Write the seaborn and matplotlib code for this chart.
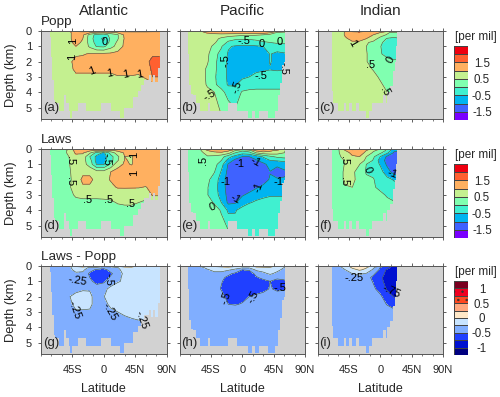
import numpy as np
import pandas as pd
import matplotlib
matplotlib.use("Agg")
import matplotlib.pyplot as plt
from matplotlib.patches import Rectangle
from matplotlib.ticker import MultipleLocator
import seaborn as sns

sns.set_theme(style="ticks")
plt.rcParams['font.family'] = ['Liberation Sans', 'DejaVu Sans']
plt.rcParams['hatch.linewidth'] = .5

#----------------------------------
# Data
#----------------------------------
lats = [-80, -70, -60, -50, -40, -30, -20, -10, 0, 10, 20, 30, 40, 50, 60, 70, 80]
depths = [0, .1, .25, .5, .75, 1, 1.5, 2, 2.5, 3, 3.5, 4, 5.75]

atl_popp = [
    [.8, .8, .8, .9, 1.7, 1.8, 1.8, 1.8, 1.8, 1.8, 1.8, 1.8, 1.8, 1.8, 1.8, 1.7, 1.7],
    [.8, .8, .8, .9, 1.2, 1.25, 1.1, .8, .7, .8, 1.1, 1.25, 1.3, 1.3, 1.3, 1.3, 1.3],
    [.8, .8, .8, .9, 1.2, 1.1, .3, -.2, -.3, .2, .45, 1.1, 1.3, 1.3, 1.3, 1.3, 1.3],
    [.8, .8, .8, .9, 1.2, 1.0, .25, -.3, -.6, .1, .45, 1.05, 1.3, 1.3, 1.3, 1.3, 1.3],
    [.8, .8, .8, .9, 1.1, .95, .3, -.2, -.4, .15, .6, 1.1, 1.3, 1.3, 1.3, 1.3, 1.3],
    [.8, .8, .8, .9, 1.0, .9, .4, -.05, -.1, .3, .7, 1.1, 1.3, 1.3, 1.3, 1.3, 1.3],
    [.8, .8, .8, .9, .9, .95, 1.05, 1.1, 1.1, 1.1, 1.15, 1.2, 1.3, 1.3, 1.3, 1.4, 1.4],
    [.8, .8, .8, .85, 1.2, 1.2, 1.2, 1.2, 1.2, 1.2, 1.2, 1.2, 1.2, 1.2, 1.3, 1.7, 1.7],
    [.8, .8, .8, .85, 1.1, 1.1, 1.1, 1.1, 1.1, 1.1, 1.1, 1.1, 1.1, 1.1, 1.2, 1.6, 1.6],
    [.8, .8, .8, .85, .9, .9, .9, .9, .9, .9, .98, .98, .98, .95, 1.05, 1.5, 1.5],
    [.8, .8, .8, .8, .8, .8, .8, .8, .8, .8, .8, .8, .8, .8, .8, .85, .85],
    [.8, .8, .8, .8, .8, .8, .8, .8, .8, .8, .8, .8, .8, .8, .8, .8, .8],
    [.7, .7, .7, .7, .7, .7, .7, .7, .7, .7, .7, .7, .7, .7, .7, .7, .7],
]
pac_popp = [
    [.9, .9, 1.0, 1.2, 1.4, 1.5, 1.6, 1.6, 1.6, 1.6, 1.6, 1.6, 1.5, 1.2, .8, .8, .8],
    [.9, .9, .9, 1.05, 1.2, 1.3, 1.3, 1.3, 1.3, 1.3, 1.3, 1.3, 1.1, .45, .4, .4, .4],
    [.85, .85, .85, .85, .8, .8, .75, .7, .6, .6, .55, .5, .3, .2, .2, .2, .2],
    [.85, .85, .85, .75, .65, .4, .2, .05, .05, .05, .1, .15, .2, .15, .15, .15, .15],
    [.85, .85, .85, .7, .55, .3, -.1, -.15, -.2, -.2, -.15, -.05, .0, .08, .1, .1, .1],
    [.85, .85, .8, .65, .4, .05, -.45, -.55, -.6, -.6, -.55, -.5, -.35, -.25, -.2, -.2, -.2],
    [.85, .85, .75, .6, .15, -.15, -.55, -.7, -.75, -.75, -.75, -.7, -.48, -.6, -.55, -.5, -.5],
    [.85, .8, .7, .55, .1, -.2, -.6, -.7, -.7, -.7, -.7, -.65, -.48, -.6, -.55, -.5, -.5],
    [.85, .8, .7, .42, .08, -.2, -.6, -.7, -.65, -.62, -.58, -.55, -.52, -.55, -.52, -.5, -.5],
    [.85, .8, .7, .42, .05, -.2, -.6, -.62, -.58, -.5, -.4, -.35, -.3, -.3, -.3, -.3, -.3],
    [.85, .8, .7, .45, .1, -.25, -.55, -.55, -.3, -.2, -.15, -.15, -.15, -.15, -.15, -.15, -.15],
    [.85, .8, .8, .6, .5, .2, -.25, -.3, .05, .1, .1, .1, .1, .1, .1, .1, .1],
    [.6, .6, .6, .6, .6, .55, .55, .2, .2, .2, .2, .2, .2, .2, .2, .2, .2],
]
ind_popp = [
    [.7, .7, .7, 1.0, 1.6, 1.7, 1.6, 1.5, 1.3, 1.2, 1.6, 1.6, 1.6, 1.6, 1.6, 1.6, 1.6],
    [.7, .7, .75, 1.05, 1.4, 1.4, 1.2, 1.1, 1.0, .6, .3, .3, .3, .3, .3, .3, .3],
    [.7, .7, .75, 1.05, 1.2, 1.2, 1.15, 1.0, .7, .45, .2, .2, .2, .2, .2, .2, .2],
    [.7, .7, .75, .95, 1.1, 1.1, 1.0, .7, .35, -.05, -.1, 0, 0, 0, 0, 0, 0],
    [.7, .7, .7, .8, .95, .95, .55, .4, .1, -.2, -.2, -.2, -.2, -.2, -.2, -.2, -.2],
    [.7, .7, .7, .75, .8, .75, .5, .35, .02, -.2, -.2, -.2, -.2, -.2, -.2, -.2, -.2],
    [.7, .7, .7, .7, .7, .7, .52, .35, .03, -.1, -.15, -.15, -.15, -.15, -.15, -.15, -.15],
    [.7, .7, .7, .7, .7, .7, .52, .35, .2, .1, .05, .05, .05, .05, .05, .05, .05],
    [.7, .7, .7, .7, .7, .7, .6, .48, .3, .2, .2, .2, .2, .2, .2, .2, .2],
    [.7, .7, .7, .7, .7, .7, .7, .6, .45, .3, .25, .25, .25, .25, .25, .25, .25],
    [.7, .7, .7, .7, .7, .7, .7, .65, .55, .4, .4, .4, .4, .4, .4, .4, .4],
    [.7, .7, .7, .7, .7, .7, .7, .7, .6, .5, .5, .5, .5, .5, .5, .5, .5],
    [.7, .7, .7, .7, .7, .7, .7, .7, .7, .7, .7, .7, .7, .7, .7, .7, .7],
]
atl_laws = [
    [.4, .4, .4, .5, 1.6, 1.7, 1.8, 1.8, 1.8, 1.8, 1.8, 1.8, 1.7, 1.6, 1.5, 1.4, 1.3],
    [.4, .4, .4, .55, 1.2, 1.2, 1.1, .9, .75, .9, 1.1, 1.2, 1.1, 1.2, 1.2, 1.2, 1.2],
    [.4, .4, .4, .55, 1.1, 1.05, .6, -.2, -.6, .2, .75, 1.05, 1.1, 1.2, 1.2, 1.2, 1.2],
    [.4, .4, .4, .5, .8, .85, .0, -.65, -.7, -.2, .4, 1.0, .96, 1.2, 1.2, 1.2, 1.2],
    [.4, .4, .4, .48, .7, .7, .2, -.7, -.65, -.2, .45, 1.02, .97, 1.2, 1.2, 1.2, 1.2],
    [.4, .4, .4, .48, .65, .7, .3, -.55, -.55, .1, .85, 1.05, .98, 1.2, 1.2, 1.2, 1.2],
    [.4, .4, .4, .45, .65, .85, .85, .7, .7, 1.0, 1.15, 1.2, 1.2, 1.2, 1.2, 1.2, 1.2],
    [.4, .4, .4, .45, .6, 1.15, 1.15, .8, .8, 1.05, 1.15, 1.2, 1.2, 1.2, 1.2, 1.2, 1.2],
    [.4, .4, .4, .45, .65, .9, .9, .75, .75, .85, 1.05, 1.05, 1.03, 1.02, .98, 1.1, 1.1],
    [.4, .4, .4, .4, .55, .6, .6, .6, .6, .6, .6, .65, .75, .8, .6, 1.05, 1.05],
    [.4, .4, .4, .4, .4, .4, .4, .4, .42, .45, .52, .55, .55, .5, .45, .6, .6],
    [.4, .4, .4, .4, .4, .4, .4, .4, .4, .4, .4, .4, .4, .4, .4, .4, .4],
    [.35, .35, .35, .35, .35, .35, .35, .35, .35, .35, .35, .35, .35, .35, .35, .35, .35],
]
pac_laws = [
    [.3, .3, .4, 1.5, 1.7, 1.7, 1.6, 1.3, .9, 1.2, 1.7, 1.8, 1.7, 1.5, .8, .3, .3],
    [.3, .3, .45, 1.0, 1.3, 1.3, 1.1, .5, .1, .3, 1.1, 1.3, 1.1, .9, .55, .3, .3],
    [.3, .3, .35, .7, .8, .9, .7, .0, -.3, -.2, .5, .8, .8, .7, .5, .3, .3],
    [.3, .3, .3, .45, .4, .2, -.3, -.7, -1.0, -1.0, -.8, -.45, -.1, .1, .2, .2, .2],
    [.3, .3, .3, .4, .3, .0, -.7, -1.15, -1.25, -1.25, -1.05, -.75, -.5, -.45, -.4, -.4, -.4],
    [.3, .3, .3, .38, .2, -.3, -1.05, -1.3, -1.35, -1.35, -1.3, -1.15, -.8, -.9, -.75, -.7, -.7],
    [.3, .3, .3, .3, .02, -.55, -1.15, -1.35, -1.35, -1.35, -1.35, -1.3, -1.02, -1.2, -1.1, -1, -1],
    [.3, .3, .3, .1, -.2, -.75, -1.2, -1.35, -1.35, -1.35, -1.35, -1.2, -.95, -.95, -.95, -.9, -.9],
    [.3, .3, .3, .03, -.3, -.75, -1.2, -1.3, -1.3, -1.2, -1.05, -.9, -.8, -.75, -.75, -.7, -.7],
    [.3, .3, .3, .02, -.25, -.7, -1.15, -1.2, -1.05, -.9, -.75, -.65, -.55, -.55, -.55, -.5, -.5],
    [.3, .3, .3, .2, -.05, -.5, -1.1, -1.05, -.75, -.55, -.4, -.3, -.3, -.3, -.3, -.3, -.3],
    [.3, .3, .3, .3, .2, -.05, -.6, -.55, -.3, -.05, -.05, -.05, -.05, -.05, -.05, -.05, -.05],
    [.3, .3, .3, .3, .3, .3, .2, -.1, -.1, -.1, -.1, -.1, -.1, -.1, -.1, -.1, -.1],
]
ind_laws = [
    [.3, .3, .4, 1.4, 1.8, 1.6, 1.3, .8, .5, .0, -1, -1, -1, -1, -1, -1, -1],
    [.3, .3, .45, 1.0, 1.2, 1.2, 1.0, .6, .3, -.1, -.9, -.9, -.9, -.9, -.9, -.9, -.9],
    [.3, .3, .45, .85, 1.1, 1.1, .95, .4, .1, -.4, -1.1, -1.1, -1.1, -1.1, -1.1, -1.1, -1.1],
    [.3, .3, .45, .6, .95, 1.0, .5, .1, -.5, -1.1, -1.2, -1.2, -1.2, -1.2, -1.2, -1.2, -1.2],
    [.3, .3, .4, .52, .75, .75, .4, -.05, -.7, -1.2, -1.3, -1.3, -1.3, -1.3, -1.3, -1.3, -1.3],
    [.3, .3, .4, .52, .7, .52, .0, -.2, -.55, -1.1, -1.35, -1.35, -1.35, -1.35, -1.35, -1.35, -1.35],
    [.3, .3, .4, .55, .6, .3, -.05, -.1, -.3, -.8, -1.2, -1.2, -1.2, -1.2, -1.2, -1.2, -1.2],
    [.3, .3, .4, .55, .6, .35, .1, .03, -.2, -.35, -.55, -.55, -.55, -.55, -.55, -.55, -.55],
    [.3, .3, .4, .48, .5, .35, .25, .05, -.1, -.2, -.3, -.3, -.3, -.3, -.3, -.3, -.3],
    [.3, .3, .3, .3, .3, .3, .3, .3, .1, -.05, -.1, -.1, -.1, -.1, -.1, -.1, -.1],
    [.3, .3, .3, .3, .3, .3, .3, .3, .3, .1, .02, .02, .02, .02, .02, .02, .02],
    [.3, .3, .3, .3, .3, .3, .3, .3, .3, .3, .3, .3, .3, .3, .3, .3, .3],
    [.3, .3, .3, .3, .3, .3, .3, .3, .3, .3, .3, .3, .3, .3, .3, .3, .3],
]
atl_diff = [
    [-.4, -.4, -.4, -.3, .1, .2, .2, .1, -.1, -.1, .1, .2, .15, -.05, -.1, -.1, -.1],
    [-.4, -.4, -.4, -.3, -.15, -.1, -.3, -.3, -.4, -.35, -.26, -.1, -.05, -.1, -.15, -.15, -.15],
    [-.4, -.4, -.4, -.3, -.2, -.2, -.4, -.55, -.6, -.4, -.28, -.2, -.15, -.15, -.15, -.15, -.15],
    [-.4, -.4, -.4, -.35, -.28, -.3, -.55, -.7, -.72, -.55, -.35, -.2, -.15, -.15, -.15, -.15, -.15],
    [-.4, -.4, -.4, -.4, -.38, -.38, -.5, -.7, -.7, -.45, -.3, -.2, -.15, -.15, -.15, -.15, -.15],
    [-.4, -.4, -.4, -.4, -.38, -.38, -.45, -.58, -.55, -.35, -.27, -.22, -.15, -.15, -.15, -.15, -.15],
    [-.4, -.4, -.4, -.35, -.3, -.28, -.27, -.38, -.3, -.2, -.15, -.15, -.15, -.15, -.15, -.15, -.15],
    [-.4, -.4, -.38, -.26, -.2, -.15, -.2, -.35, -.26, -.15, -.12, -.12, -.12, -.12, -.12, -.12, -.12],
    [-.4, -.4, -.35, -.3, -.2, -.2, -.2, -.35, -.32, -.2, -.15, -.15, -.15, -.15, -.15, -.15, -.15],
    [-.4, -.4, -.35, -.35, -.27, -.27, -.28, -.4, -.4, -.3, -.25, -.2, -.15, -.15, -.15, -.15, -.15],
    [-.4, -.4, -.4, -.4, -.4, -.4, -.4, -.4, -.4, -.4, -.35, -.3, -.27, -.24, -.2, -.15, -.15],
    [-.4, -.4, -.4, -.4, -.4, -.4, -.4, -.4, -.4, -.4, -.4, -.4, -.4, -.4, -.4, -.4, -.4],
    [-.4, -.4, -.4, -.4, -.4, -.4, -.4, -.4, -.4, -.4, -.4, -.4, -.4, -.4, -.4, -.4, -.4],
]
pac_diff = [
    [-.35, -.35, -.2, .0, .1, .15, .15, .1, -.1, -.1, .1, .2, .15, -.05, -.2, -.3, -.3],
    [-.35, -.35, -.3, -.2, -.15, -.1, -.05, -.15, -.2, -.2, -.05, -.05, -.02, -.15, -.25, -.3, -.3],
    [-.35, -.35, -.35, -.27, -.2, -.22, -.22, -.3, -.5, -.48, -.2, -.18, -.17, -.2, -.3, -.3, -.3],
    [-.35, -.35, -.35, -.33, -.3, -.28, -.45, -.55, -.6, -.6, -.45, -.3, -.22, -.3, -.35, -.35, -.35],
    [-.35, -.35, -.35, -.35, -.35, -.45, -.55, -.62, -.65, -.62, -.52, -.45, -.38, -.45, -.42, -.35, -.35],
    [-.35, -.35, -.35, -.35, -.36, -.48, -.6, -.65, -.65, -.62, -.58, -.55, -.5, -.58, -.55, -.35, -.35],
    [-.35, -.35, -.35, -.35, -.38, -.52, -.62, -.62, -.62, -.62, -.62, -.58, -.48, -.54, -.52, -.35, -.35],
    [-.35, -.35, -.35, -.35, -.35, -.4, -.6, -.62, -.58, -.5, -.45, -.4, -.4, -.4, -.4, -.35, -.35],
    [-.35, -.35, -.35, -.35, -.35, -.38, -.5, -.52, -.48, -.38, -.38, -.38, -.38, -.38, -.38, -.35, -.35],
    [-.35, -.35, -.35, -.35, -.35, -.35, -.35, -.35, -.35, -.35, -.35, -.35, -.35, -.35, -.35, -.35, -.35],
    [-.35, -.35, -.35, -.35, -.35, -.35, -.35, -.35, -.35, -.35, -.35, -.35, -.35, -.35, -.35, -.35, -.35],
    [-.35, -.35, -.35, -.35, -.35, -.35, -.35, -.35, -.35, -.35, -.35, -.35, -.35, -.35, -.35, -.35, -.35],
    [-.35, -.35, -.35, -.35, -.35, -.35, -.35, -.35, -.35, -.35, -.35, -.35, -.35, -.35, -.35, -.35, -.35],
]
ind_diff = [
    [-.35, -.35, -.3, -.1, .1, .2, .1, -.05, -.3, -.6, -.9, -.9, -.9, -.9, -.9, -.9, -.9],
    [-.35, -.35, -.3, -.2, .05, .1, .02, -.2, -.5, -.65, -.9, -.9, -.9, -.9, -.9, -.9, -.9],
    [-.35, -.35, -.33, -.25, -.1, .03, -.05, -.3, -.55, -.8, -.9, -.9, -.9, -.9, -.9, -.9, -.9],
    [-.35, -.35, -.35, -.3, -.25, -.22, -.27, -.45, -.65, -.82, -.9, -.9, -.9, -.9, -.9, -.9, -.9],
    [-.35, -.35, -.35, -.35, -.3, -.3, -.42, -.55, -.7, -.85, -.9, -.9, -.9, -.9, -.9, -.9, -.9],
    [-.35, -.35, -.35, -.35, -.35, -.35, -.38, -.52, -.68, -.85, -.9, -.9, -.9, -.9, -.9, -.9, -.9],
    [-.35, -.35, -.35, -.35, -.35, -.35, -.36, -.45, -.6, -.78, -.9, -.9, -.9, -.9, -.9, -.9, -.9],
    [-.35, -.35, -.35, -.35, -.35, -.35, -.35, -.38, -.45, -.65, -.76, -.76, -.76, -.76, -.76, -.76, -.76],
    [-.35, -.35, -.35, -.35, -.35, -.35, -.35, -.35, -.37, -.52, -.65, -.65, -.65, -.65, -.65, -.65, -.65],
    [-.35, -.35, -.35, -.35, -.35, -.35, -.35, -.35, -.35, -.35, -.4, -.4, -.4, -.4, -.4, -.4, -.4],
    [-.35, -.35, -.35, -.35, -.35, -.35, -.35, -.35, -.35, -.35, -.35, -.35, -.35, -.35, -.35, -.35, -.35],
    [-.35, -.35, -.35, -.35, -.35, -.35, -.35, -.35, -.35, -.35, -.35, -.35, -.35, -.35, -.35, -.35, -.35],
    [-.35, -.35, -.35, -.35, -.35, -.35, -.35, -.35, -.35, -.35, -.35, -.35, -.35, -.35, -.35, -.35, -.35],
]

# sea floor: southern edge of each latitude band and the floor depth in it
atl_edge = [-90, -77.6, -75.7, -74.2, -71.9, -69.5, -63.7, -57.5, -54.2, -50.4, -48, -45.6, -37.5, -25.5, -3.6, 10.3, 22.7, 28.4, 41.8, 48.5, 53.3, 58, 64.3, 67.6, 70.5, 73.8, 77.2, 80, 90]
atl_floor = [0, .4, 1.7, 3.2, 4.5, 4.7, 5.2, 4.2, 4.7, 5.2, 5.7, 5.2, 4.7, 5.2, 4.7, 5.2, 5.7, 5.0, 4.3, 3.9, 3.5, 3.2, 2.9, 3.35, 2.9, 3.35, 2.4, 0, 0]
pac_edge = [-90, -77.6, -75.7, -74.2, -70.4, -67, -59.9, -49.4, -45.6, -20.7, -7.4, 8.4, 14.1, 18.9, 23.7, 37, 46.6, 51.4, 54.7, 57.5, 59.5, 61.9, 90]
pac_floor = [0, 1.5, 3.5, 4.1, 4.2, 4.7, 5.2, 4.7, 5.2, 4.7, 5.2, 5.7, 5.2, 5.7, 5.2, 5.7, 5.2, 4.2, 3.4, 2.2, 2, 0, 0]
ind_edge = [-90, -69.5, -67.1, -61.3, -52.7, -48.9, -44.6, -40.8, -35, -30.3, -20.7, -16, -12.2, 4.6, 8, 10, 14.1, 17.9, 21.3, 23, 24.6, 90]
ind_floor = [0, 3.9, 4.7, 5.2, 4.7, 5.2, 4.7, 5.2, 4.7, 5.2, 5.7, 5.2, 4.7, 4.2, 4.7, 4.0, 3.6, 2.6, 2.0, 1, 0, 0]

# contour labels: latitude, depth, text, rotation
atl_popp_lab = [(-44.6, .65, "1", 90), (-45.6, 1.72, "1", 90), (-17, 2.65, "1", 20), (8, 2.8, "1", 10), (31, 2.85, "1", 10), (52, 2.85, "1", 10), (1.2, .72, "0", 0)]
pac_popp_lab = [(2.2, .65, "-.5", 0), (28.4, .87, "0", 0), (53.7, .74, "0", 0), (-24, 1.96, "-.5", 90), (27, 2.91, "-.5", 0), (59.5, 2.43, "-.5", -90), (-7.4, 3.63, "-.5", 70), (-46.5, 4.17, "-.5", 30)]
ind_popp_lab = [(-40.8, .8, "1", -60), (-14.5, 2.22, ".5", 0), (15.5, 1.89, "0", 60), (6, 3.96, ".5", -60)]
atl_laws_lab = [(-48, .78, ".5", -90), (-48, 2.15, ".5", -90), (-23, 3.35, ".5", 0), (7, 3.3, ".5", 0), (38, 3.6, ".5", 0), (4.5, .67, "-.5", -90), (44, .41, "1", 90), (44, 1.54, "1", 90)]
pac_laws_lab = [(-56.6, .78, ".5", 90), (-3.5, 1.0, "-1", 0), (19, .85, "-1", -30), (-24, 2.15, "-1", 0), (23.6, 2.5, "-1", 70), (-10, 3.28, "-1", -30), (52, 2.15, "-1", 0), (-43, 3.83, "0", 20)]
ind_laws_lab = [(-52, .78, ".5", -90), (-51.6, 2.15, ".5", -90), (-18, 1.35, "0", -70), (16.5, 1.65, "-1", -20)]
atl_diff_lab = [(-38.4, .96, "-.25", -10), (-41.8, 2.9, "-.25", -70), (9.3, 2.98, "-.25", -60), (54.7, 3.52, "-.25", -70), (7, .91, "-.5", -90)]
pac_diff_lab = [(-24, 2.1, "-.5", 70), (15.5, 2, "-.5", 60), (53.7, 1.46, "-.5", 0)]
ind_diff_lab = [(-38, .8, "-.25", 0), (16.5, 1.67, "-.75", -25)]

levels_top = [-1.5, -1, -.5, 0, .5, 1, 1.5, 2]
colors_top = ["#7A00FF", "#3F62FF", "#00B4F0", "#40F0D0", "#80FFB0", "#C4F090", "#FFB060", "#FF6030", "#EE0010"]
ticks_top = ["1.5", "0.5", "-0.5", "-1.5"]

levels_diff = [-1, -.75, -.5, -.25, 0, .25, .5, .75, 1]
colors_diff = ["#000080", "#0010D0", "#2040FF", "#80AEFF", "#C8E4FF", "#FFE8C8", "#FFA880", "#FF4820", "#F00020", "#7A0020"]
ticks_diff = ["1", "0.5", "0", "-0.5", "-1"]

basins = ["Atlantic", "Pacific", "Indian"]
row_titles = ["Popp", "Laws", "Laws - Popp"]
panel_tags = ["(a)", "(b)", "(c)", "(d)", "(e)", "(f)", "(g)", "(h)", "(i)"]
lat_ticks = [-45, 0, 45, 90]
lat_labels = ["45S", "0", "45N", "90N"]
dep_ticks = [0, 1, 2, 3, 4, 5]

fields = [atl_popp, pac_popp, ind_popp, atl_laws, pac_laws, ind_laws, atl_diff, pac_diff, ind_diff]
labels = [atl_popp_lab, pac_popp_lab, ind_popp_lab, atl_laws_lab, pac_laws_lab, ind_laws_lab, atl_diff_lab, pac_diff_lab, ind_diff_lab]
edges = [atl_edge, pac_edge, ind_edge]
floors = [atl_floor, pac_floor, ind_floor]

#----------------------------------
# Layout
#----------------------------------
W, H = 500, 397
GREY = "#D2D2D2"
LINE = "#4A5A4A"
col_x = [41, 179.5, 317.5]
row_y = [31, 149, 266]
ax_w, ax_h = 125.5, 88
bar_y = [46, 164, 281]

fig = plt.figure(figsize=(W / 100, H / 100), dpi=100)


def px_axes(x, y, w, h):
    return fig.add_axes([x / W, 1 - (y + h) / H, w / W, h / H])


#----------------------------------
# Panels
#----------------------------------
for i, field in enumerate(fields):
    r, c = i // 3, i % 3
    ax = px_axes(col_x[c], row_y[r], ax_w, ax_h)
    ax.set_facecolor(GREY)

    lev = levels_diff if r == 2 else levels_top
    cols = colors_diff if r == 2 else colors_top
    ax.contourf(lats, depths, field, levels=lev, colors=cols, extend="both", zorder=1)
    ax.contour(lats, depths, field, levels=lev, colors=LINE, linewidths=.45, linestyles="solid", zorder=2)
    ax.fill_between(edges[c], floors[c], 5.75, step="post", color=GREY, lw=0, zorder=3)

    for la, de, txt, rot in labels[i]:
        ax.text(la, de, txt, fontsize=8, rotation=rot, ha="center", va="center", color="black", zorder=5)

    ax.set_xlim(-90, 90)
    ax.set_ylim(5.75, 0)
    ax.set_xticks(lat_ticks)
    ax.xaxis.set_minor_locator(MultipleLocator(15))
    ax.set_yticks(dep_ticks)
    ax.tick_params(which="major", length=2.5, width=.6, color="#444444", top=True, right=True, labelsize=8)
    ax.tick_params(axis="x", pad=5.5)
    ax.tick_params(axis="y", pad=4)
    ax.tick_params(which="minor", length=1.3, width=.5, color="#444444", top=True)
    for s in ax.spines.values():
        s.set_linewidth(.7)
        s.set_color("#555555")
        s.set_zorder(6)

    if c == 0:
        ax.set_ylabel("Depth (km)", fontsize=9.3, labelpad=6)
    else:
        ax.set_yticklabels([])
    if r == 2:
        ax.set_xticklabels(lat_labels)
        ax.set_xlabel("Latitude", fontsize=9, labelpad=6)
    else:
        ax.set_xticklabels([])
    if r == 0:
        ax.text(.5, 1.23, basins[c], transform=ax.transAxes, ha="center", va="center", fontsize=11)
    if c == 0:
        ax.text(0, 1.03, row_titles[r], transform=ax.transAxes, ha="left", va="bottom", fontsize=9.7)
    ax.text(.015, .13, panel_tags[i], transform=ax.transAxes, ha="left", va="center", fontsize=9.5, zorder=7)

#----------------------------------
# Colour bars
#----------------------------------
for r in range(3):
    cols = colors_diff if r == 2 else colors_top
    names = ticks_diff if r == 2 else ticks_top
    n = len(cols)
    cax = px_axes(454, bar_y[r], 14, 74)
    cells = pd.DataFrame(np.arange(n)[::-1].reshape(-1, 1))
    sns.heatmap(cells, ax=cax, cmap=sns.color_palette(cols, as_cmap=True), cbar=False,
                linewidths=.4, linecolor="#444444", xticklabels=False, yticklabels=False)
    if r == 2:
        # the two red cells are stippled
        cax.add_patch(Rectangle((0, 1), 1, 2, fill=False, hatch="..", edgecolor="#333333", lw=0))
    pos = np.arange(1, 2 * len(names), 2) if r == 2 else np.arange(2, 2 * len(names) + 2, 2)
    cax.yaxis.tick_right()
    cax.set_yticks(pos)
    cax.set_yticklabels(names, rotation=0, fontsize=8.3, ha="center")
    cax.tick_params(axis="y", length=0, pad=10)
    cax.set_ylabel("")
    fig.text(476 / W, 1 - (bar_y[r] - 3) / H, "[per mil]", fontsize=8.5, ha="center", va="bottom")

fig.savefig("out.png", dpi=100)
